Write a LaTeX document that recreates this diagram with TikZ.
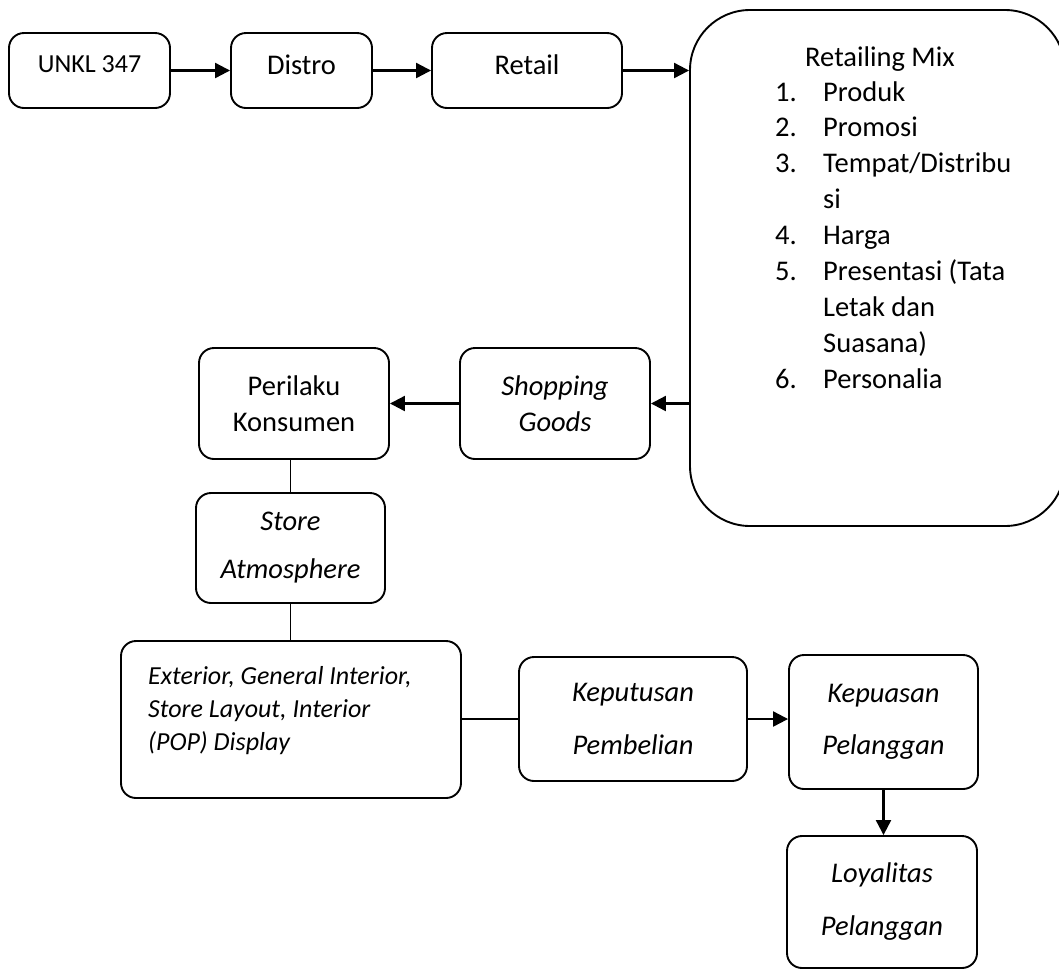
\documentclass[tikz,border=0pt]{standalone}
\usepackage{fontspec}
\setmainfont{Carlito}
\usetikzlibrary{arrows.meta}
\tikzset{
	box/.style={draw, line width=1.9pt, rounded corners=15pt, inner sep=0pt, align=center,
		font=\fontsize{28.5}{36}\selectfont},
	arr/.style={-{Triangle[length=15pt,width=15pt]}, line width=2.2pt},
	link/.style={line width=1.5pt},
	plain/.style={inner sep=0pt, font=\fontsize{28.5}{36}\selectfont},
}
\begin{document}
\begin{tikzpicture}[x=1pt,y=-1pt]
			\useasboundingbox (0,0) rectangle (1059,970);
			\node[box, minimum width=161, minimum height=75, text depth=12pt,
				font=\fontsize{26}{32}\selectfont] (unkl) at (89.5,70.5) {UNKL 347};
			\node[box, minimum width=141, minimum height=75, text depth=12pt] (distro) at (301.5,70.5) {Distro};
			\node[box, minimum width=190, minimum height=75, text depth=12pt] (retail) at (527,70.5) {Retail};
			\node[box, minimum width=375, minimum height=516, rounded corners=60pt] (mix) at (877.5,268) {};
			\node[plain, anchor=base] (mixtitle) at (880,66) {Retailing Mix};
			\foreach \num/\txt [count=\k from 0] in {1./Produk, 2./Promosi, 3./Tempat\slash Distribu,
				/si, 4./Harga, 5./Presentasi (Tata, /Letak dan, /Suasana), 6./Personalia} {
			\node[plain, anchor=base west] (num\k) at (775,{101+35.9*\k}) {\num};
			\node[plain, anchor=base west] (item\k) at (823,{101+35.9*\k}) {\txt};
			}
			\node[box, minimum width=190, minimum height=111] (shop) at (555,403.5) {\itshape Shopping\\\itshape Goods};
			\node[box, minimum width=190, minimum height=111] (perilaku) at (294,403.5) {Perilaku\\Konsumen};
			\node[box, minimum width=189, minimum height=110,
				font=\fontsize{28.5}{48}\selectfont\itshape] (store) at (290.5,548) {Store\\Atmosphere};
			\node[box, minimum width=340, minimum height=157] (ext) at (291,719.5) {};
			\node[plain, anchor=north west, align=left,
				font=\fontsize{26}{33}\selectfont\itshape] (exttext) at (148,666)
				{Exterior, General Interior,\\Store Layout, Interior\\(POP) Display};
			\node[box, minimum width=228, minimum height=124,
				font=\fontsize{28.5}{53}\selectfont\itshape] (kepu) at (633,719) {Keputusan\\Pembelian};
			\node[box, minimum width=189, minimum height=134,
				font=\fontsize{28.5}{52}\selectfont\itshape] (puas) at (883.5,722) {Kepuasan\\Pelanggan};
			\node[box, minimum width=190, minimum height=132,
				font=\fontsize{28.5}{53}\selectfont\itshape] (loyal) at (882,902) {Loyalitas\\Pelanggan};
			\draw[arr] (unkl) -- (distro);
			\draw[arr] (distro) -- (retail);
			\draw[arr] (retail) -- (retail -| mix.west);
			\draw[arr] (shop -| mix.west) -- (shop);
			\draw[arr] (shop) -- (perilaku);
			\draw[link] (store.north |- perilaku.south) -- (store.north);
			\draw[link] (store.south) -- (store.south |- ext.north);
			\draw[link] (kepu -| ext.east) -- (kepu);
			\draw[arr] (kepu) -- (kepu -| puas.west);
			\draw[arr] (puas) -- (puas |- loyal.north);
\end{tikzpicture}
\end{document}
